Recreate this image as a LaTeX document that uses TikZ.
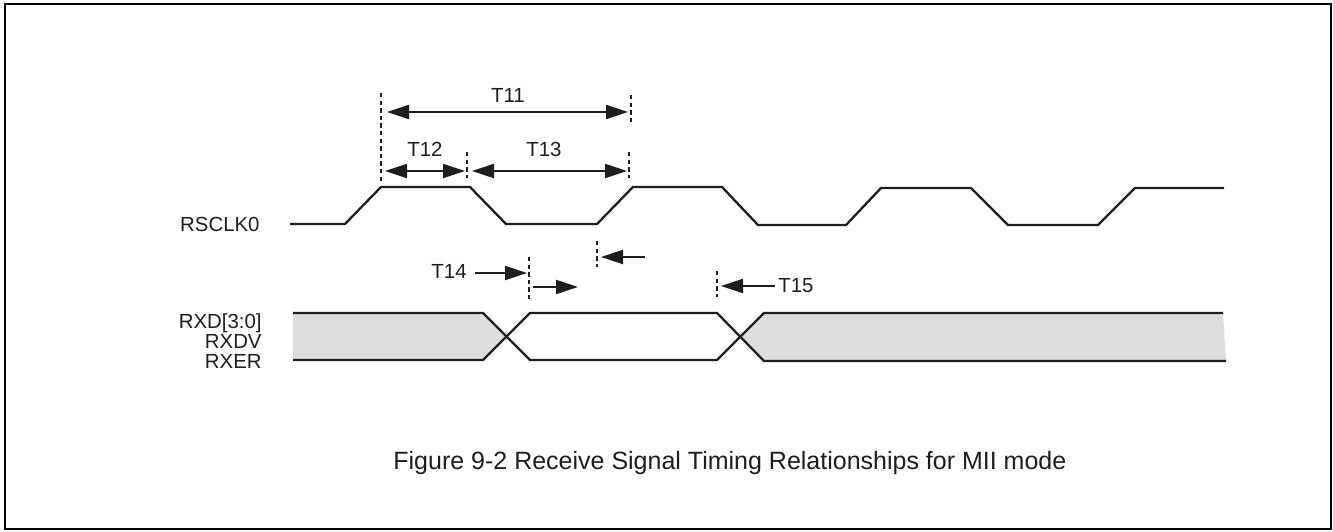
\documentclass[tikz,border=0pt]{standalone}
\usepackage{fontspec}
\setmainfont{Liberation Sans}
\usetikzlibrary{arrows.meta}
\definecolor{datagray}{RGB}{220,221,223}
\definecolor{ink}{RGB}{30,30,30}
\tikzset{
  sig/.style={line width=1.15pt, draw=ink, line join=miter},
  marker/.style={line width=1.3pt, draw=ink, dash pattern=on 2.2pt off 1.6pt},
  dimarrow/.style={line width=1.1pt, draw=ink, -{Triangle[length=11pt,width=7pt]}},
  dimboth/.style={line width=1.1pt, draw=ink, {Triangle[length=11pt,width=7pt]}-{Triangle[length=11pt,width=7pt]}},
  lbl/.style={inner sep=0pt, font=\fontsize{10.2pt}{12pt}\selectfont, text=ink},
  captext/.style={inner sep=0pt, font=\fontsize{12.5pt}{14pt}\selectfont, text=ink}
}
\begin{document}
\begin{tikzpicture}[x=0.5pt,y=-0.5pt]
\useasboundingbox (0,0) rectangle (1333,531);
\draw[line width=1.1pt, draw=black] (5,4) rectangle (1331,529);

% data fills
\fill[datagray] (293,313) -- (483,313) -- (506.5,336.5) -- (483,360) -- (293,360) -- cycle;
\fill[datagray] (740.5,336.5) -- (764,313) -- (1223,313) -- (1226,361) -- (764,361) -- cycle;

% clock
\draw[sig] (290,224) -- (345,224) -- (381,187) -- (470,187) -- (506,224) -- (597,224)
  -- (633,187) -- (722,187) -- (758,225) -- (846,225) -- (881,188) -- (971,188)
  -- (1008,225) -- (1098,225) -- (1135,188) -- (1224,188);

% data lines
\draw[sig] (293,313) -- (483,313) -- (530,360) -- (717,360) -- (764,313) -- (1223,313);
\draw[sig] (293,360) -- (483,360) -- (530,313) -- (717,313) -- (764,361) -- (1226,361);

% markers
\coordinate (m1a) at (381,93);  \coordinate (m1b) at (381,183);
\coordinate (m2a) at (631,95);  \coordinate (m2b) at (631,122);
\coordinate (m3a) at (467,152); \coordinate (m3b) at (467,178);
\coordinate (m4a) at (629,152); \coordinate (m4b) at (629,178);
\coordinate (m5a) at (529,257); \coordinate (m5b) at (529,300);
\coordinate (m6a) at (597,241); \coordinate (m6b) at (597,267);
\coordinate (m7a) at (717,271); \coordinate (m7b) at (717,297);
\foreach \m in {1,...,7} \draw[marker] (m\m a) -- (m\m b);

% dimension arrows
\coordinate (a11l) at (387,112); \coordinate (a11r) at (628,112);
\draw[dimboth] (a11l) -- (a11r);
\coordinate (a12l) at (385,171); \coordinate (a12r) at (465,171);
\draw[dimboth] (a12l) -- (a12r);
\coordinate (a13l) at (472,171); \coordinate (a13r) at (627,171);
\draw[dimboth] (a13l) -- (a13r);

\node[lbl, anchor=base] (t11) at (508,102) {T11};
\node[lbl, anchor=base] (t12) at (425,156) {T12};
\node[lbl, anchor=base] (t13) at (544,156) {T13};
\node[lbl, anchor=base east] (t14) at (467,278) {T14};
\node[lbl, anchor=base west] (t15) at (778,292) {T15};

\coordinate (a14s) at (475,273); \coordinate (a14e) at (527,273);
\draw[dimarrow] (a14s) -- (a14e);
\coordinate (a14bs) at (533,287); \coordinate (a14be) at (578,287);
\draw[dimarrow] (a14bs) -- (a14be);
\coordinate (a6s) at (645,257); \coordinate (a6e) at (601,257);
\draw[dimarrow] (a6s) -- (a6e);
\coordinate (a15s) at (775,286); \coordinate (a15e) at (721,286);
\draw[dimarrow] (a15s) -- (a15e);

% signal labels
\node[lbl, anchor=base east] (rsclk) at (260,231) {RSCLK0};
\node[lbl, anchor=base east] (rxd) at (262,328) {RXD[3:0]};
\node[lbl, anchor=base east] (rxdv) at (262,348) {RXDV};
\node[lbl, anchor=base east] (rxer) at (262,368) {RXER};

\node[captext, anchor=base west] (caption) at (393,469) {Figure 9-2 Receive Signal Timing Relationships for MII mode};
\end{tikzpicture}
\end{document}
